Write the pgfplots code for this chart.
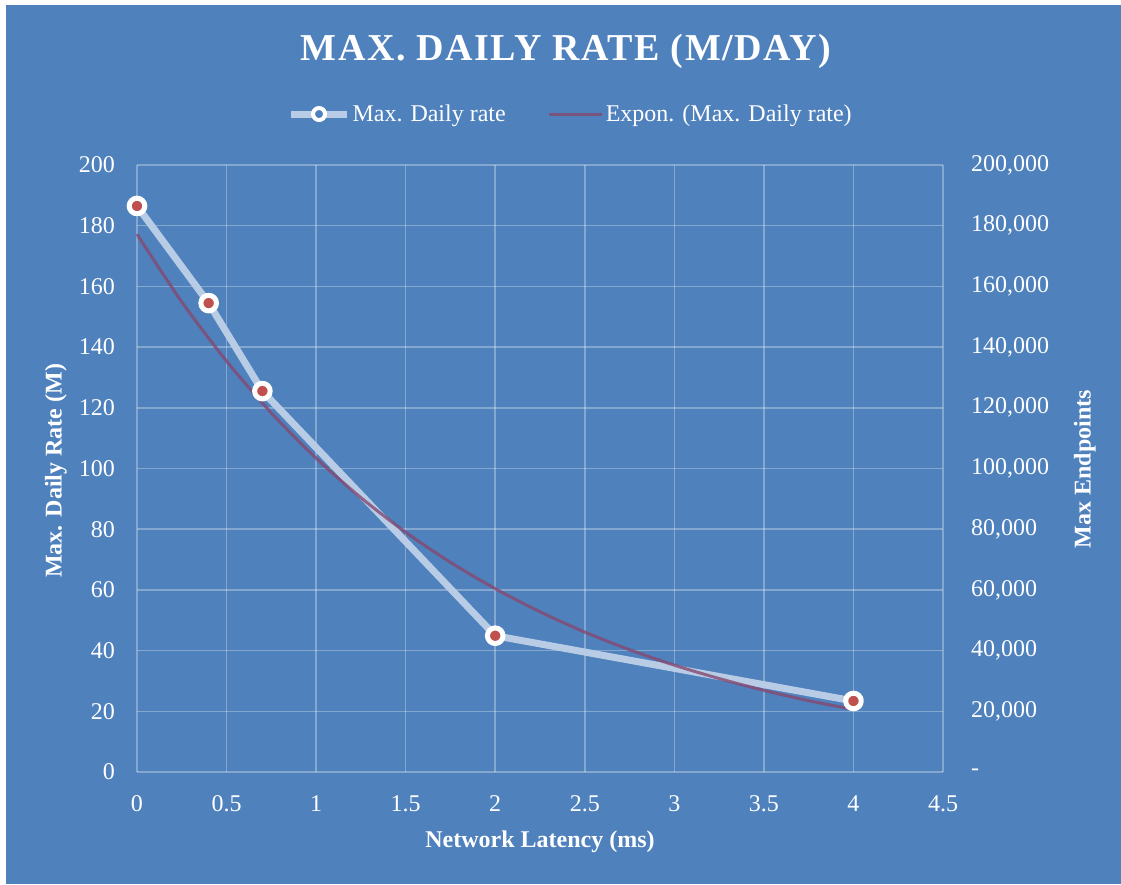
\documentclass[border=0pt]{standalone}
\usepackage{fontspec}
\setmainfont{Liberation Serif}
\newfontfamily\titlefont{Liberation Serif}[LetterSpace=4]
\usepackage{pgfplots}
\pgfplotsset{compat=1.18}
\definecolor{bg}{RGB}{79,129,189}
\definecolor{datacol}{RGB}{184,204,230}
\definecolor{trendcol}{RGB}{133,72,112}
\definecolor{markred}{RGB}{192,80,77}
\begin{document}
\begin{tikzpicture}[x=1pt,y=1pt]
\fill[white] (0,0) rectangle (1121,884);
\fill[bg] (6,0) rectangle (1121,879);
\useasboundingbox (0,0) rectangle (1121,884);
\begin{axis}[
  at={(137pt,112pt)}, anchor=south west,
  scale only axis, width=806pt, height=607pt,
  xmin=0, xmax=4.5, ymin=0, ymax=200,
  xtick={0,0.5,1,1.5,2,2.5,3,3.5,4,4.5},
  xticklabels={0,0.5,1,1.5,2,2.5,3,3.5,4,4.5},
  ytick={0,20,40,60,80,100,120,140,160,180,200},
  yticklabels={0,20,40,60,80,100,120,140,160,180,200},
  /pgf/number format/assume math mode=true,
  axis line style={draw=none},
  major tick length=0pt,
  grid=major,
  major grid style={white, opacity=0.3, line width=1.5pt},
  ticklabel style={font=\fontsize{24}{28}\selectfont, text=white, inner sep=0pt},
  xticklabel style={anchor=north, yshift=-23pt},
  yticklabel style={anchor=east, xshift=-22pt},
  xlabel={\bfseries Network Latency (ms)},
  ylabel={\bfseries Max. Daily Rate (M)},
  label style={font=\fontsize{24}{28}\selectfont, text=white},
  xlabel style={at={(axis description cs:0.5,-0.1236)}, anchor=base},
  ylabel style={at={(axis description cs:-0.1005,0.496)}, rotate=0, anchor=center},
  title={\titlefont\bfseries MAX. DAILY RATE (M/DAY)},
  title style={font=\fontsize{38}{44}\selectfont, text=white, at={(axis description cs:0.532,1.1697)}, anchor=base, yshift=-5pt},
  legend style={at={(axis description cs:0.538,1.084)}, anchor=center, draw=none, fill=none,
    font=\fontsize{24}{28}\selectfont, text=white, legend columns=2,
    /tikz/every even column/.append style={column sep=40pt}},
  clip=false,
]
\addplot[color=datacol, line width=7pt, line join=round,
  mark=*, mark options={draw=white, fill=markred, line width=5pt},
  mark size=7.8pt,
  legend image code/.code={
    \draw[datacol, line width=7pt] (0pt,0pt) -- (56pt,0pt);
    \draw[white, line width=4pt, fill=bg] (28pt,0pt) circle (6pt);
  }]
  coordinates {(0,186.5) (0.4,154.5) (0.7,125.5) (2,44.9) (4,23.4)};
\addlegendentry{Max. Daily rate}
\addplot[color=trendcol, opacity=0.8, line width=3pt, smooth, no marks,
  legend image code/.code={
    \draw[trendcol, opacity=0.8, line width=3pt] (0pt,0pt) -- (53pt,0pt);
  }]
  coordinates {(0,177.2) (0.25,154.9) (0.5,135.4) (0.75,118.3) (1,103.4) (1.25,90.4)
   (1.5,79.0) (1.75,69.1) (2,60.4) (2.25,52.8) (2.5,46.1) (2.75,40.3) (3,35.2)
   (3.25,30.8) (3.5,26.9) (3.75,23.5) (4,20.6)};
\addlegendentry{Expon. (Max. Daily rate)}
\end{axis}
\begin{axis}[
  at={(137pt,112pt)}, anchor=south west,
  scale only axis, width=806pt, height=607pt,
  xmin=0, xmax=4.5, ymin=0, ymax=200000,
  scaled y ticks=false,
  axis x line=none,
  axis y line*=right,
  axis line style={draw=none},
  major tick length=0pt,
  ytick={0,20000,40000,60000,80000,100000,120000,140000,160000,180000,200000},
  yticklabels={-,{20,000},{40,000},{60,000},{80,000},{100,000},{120,000},{140,000},{160,000},{180,000},{200,000}},
  yticklabel style={font=\fontsize{24}{28}\selectfont, text=white, inner sep=0pt, anchor=west, xshift=28pt},
  ylabel={\bfseries Max Endpoints},
  ylabel style={font=\fontsize{24}{28}\selectfont, text=white, at={(axis description cs:1.176,0.499)}, rotate=0, anchor=center},
  clip=false,
]
\addplot[draw=none, mark=none] coordinates {(0,0)};
\end{axis}
\end{tikzpicture}
\end{document}
